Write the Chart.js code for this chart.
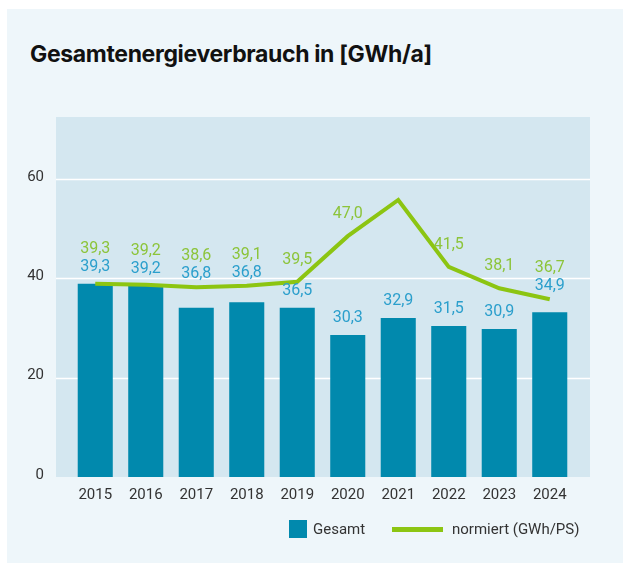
<!DOCTYPE html>
<html>
<head>
<meta charset="utf-8">
<script src="https://cdn.jsdelivr.net/npm/chart.js@4.4.1/dist/chart.umd.min.js"></script>
<style>
  html, body { margin: 0; padding: 0; background: #ffffff; }
  body { width: 623px; height: 563px; position: relative; overflow: hidden; font-family: Roboto, "Noto Sans", sans-serif; }
  .card { position: absolute; left: 7px; top: 9px; right: 0; bottom: 0; background: #eef6fa; }
  .title { position: absolute; left: 30px; top: 43px; font-family: Inter, Roboto, sans-serif; font-size: 23px; line-height: 23px; font-weight: 700; color: #111; letter-spacing: -0.35px; white-space: nowrap; }
  canvas { position: absolute; left: 0; top: 0; }
  .legend { position: absolute; top: 520px; left: 0; font-size: 15px; line-height: 18px; color: #333; }
  .legend span { position: absolute; white-space: nowrap; }
</style>
</head>
<body>
<div class="card"></div>
<div class="title">Gesamtenergieverbrauch in [GWh/a]</div>
<canvas id="energyChart" width="623" height="563"></canvas>
<div class="legend">
  <span style="left:289px;top:0;width:18px;height:18px;background:#0189ad;"></span>
  <span style="left:313px;top:0;">Gesamt</span>
  <span style="left:392px;top:6.5px;width:51px;height:5px;background:#8cc512;"></span>
  <span style="left:452px;top:0;">normiert (GWh/PS)</span>
</div>
<script>
const years = ['2015', '2016', '2017', '2018', '2019', '2020', '2021', '2022', '2023', '2024'];
// heights as drawn in the picture
const gesamt = [38.9, 38.5, 34.1, 35.2, 34.1, 28.6, 32.0, 30.4, 29.8, 33.2];
const normiert = [38.9, 38.7, 38.2, 38.5, 39.3, 48.5, 55.8, 42.3, 38.0, 35.8];
// printed value labels
const gesamtLabels = [39.3, 39.2, 36.8, 36.8, 36.5, 30.3, 32.9, 31.5, 30.9, 34.9];
const normiertLabels = [39.3, 39.2, 38.6, 39.1, 39.5, 47.0, null, 41.5, 38.1, 36.7];
const yTicks = [0, 20, 40, 60];

const BAR_COLOR = '#0189ad';
const LINE_COLOR = '#8cc512';

function fmt(v) {
  return v.toFixed(1).replace('.', ',');
}

// plot background + white grid lines, a bit wider than the category scale
const plotBackground = {
  id: 'plotBackground',
  beforeDraw(chart) {
    const ctx = chart.ctx;
    const area = chart.chartArea;
    const y = chart.scales.y;
    const left = area.left - 14;
    const right = area.right + 15;
    ctx.save();
    ctx.fillStyle = '#d4e7f0';
    ctx.fillRect(left, area.top, right - left, area.bottom - area.top);
    ctx.strokeStyle = '#ffffff';
    ctx.lineWidth = 1.5;
    yTicks.forEach(function(t) {
      if (t === 0) return;
      const py = Math.round(y.getPixelForValue(t)) + 0.5;
      ctx.beginPath();
      ctx.moveTo(left, py);
      ctx.lineTo(right, py);
      ctx.stroke();
    });
    ctx.restore();
  }
};

// value labels: blue above the bar, green above the line, nudged apart
const valueLabels = {
  id: 'valueLabels',
  afterDatasetsDraw(chart) {
    const ctx = chart.ctx;
    const points = chart.getDatasetMeta(0).data;
    const bars = chart.getDatasetMeta(1).data;
    ctx.save();
    ctx.font = '16px Roboto';
    ctx.textAlign = 'center';
    ctx.textBaseline = 'middle';
    years.forEach(function(year, i) {
      const x = bars[i].x;
      const lineY = points[i].y;
      let blueY = bars[i].y - 17;
      if (Math.abs(lineY - blueY) < 7) {
        blueY = lineY - 13;
      }
      ctx.fillStyle = '#2b9fcc';
      ctx.fillText(fmt(gesamtLabels[i]), x, blueY);

      if (normiertLabels[i] !== null) {
        let greenY = lineY - 22;
        if (blueY < lineY && greenY > blueY - 18) {
          greenY = blueY - 18;
        }
        ctx.fillStyle = '#8cc43a';
        ctx.fillText(fmt(normiertLabels[i]), x, greenY);
      }
    });
    ctx.restore();
  }
};

const ctx = document.getElementById('energyChart').getContext('2d');
new Chart(ctx, {
  data: {
    labels: years,
    datasets: [
      {
        type: 'line',
        label: 'normiert (GWh/PS)',
        data: normiert,
        borderColor: LINE_COLOR,
        borderWidth: 4,
        tension: 0,
        pointRadius: 0,
        borderJoinStyle: 'miter',
        order: 0
      },
      {
        type: 'bar',
        label: 'Gesamt',
        data: gesamt,
        backgroundColor: BAR_COLOR,
        categoryPercentage: 1,
        barPercentage: 0.694,
        order: 1
      }
    ]
  },
  options: {
    responsive: false,
    animation: false,
    layout: {
      padding: { left: 0, right: 48, top: 117, bottom: 56 }
    },
    plugins: {
      legend: { display: false },
      tooltip: { enabled: false }
    },
    scales: {
      x: {
        grid: { display: false, drawTicks: false },
        border: { display: false },
        ticks: {
          color: '#333333',
          font: { family: 'Roboto', size: 15 },
          padding: 9,
          maxRotation: 0
        },
        afterFit: function(scale) { scale.height = 30; }
      },
      y: {
        min: 0,
        max: 72.5,
        grid: { display: false, drawTicks: false },
        border: { display: false },
        ticks: {
          stepSize: 20,
          includeBounds: false,
          color: '#333333',
          font: { family: 'Roboto', size: 15 },
          padding: 26,
          labelOffset: -2
        },
        afterFit: function(scale) { scale.width = 70; }
      }
    }
  },
  plugins: [plotBackground, valueLabels]
});
</script>
</body>
</html>
